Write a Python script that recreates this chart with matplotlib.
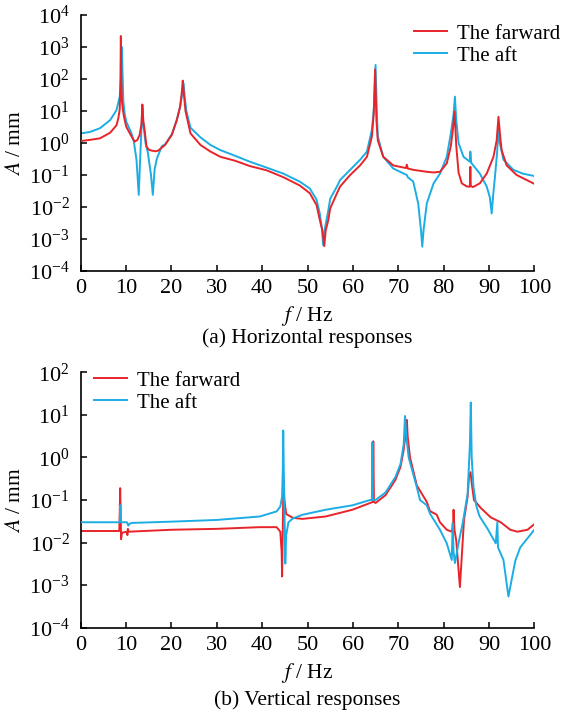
import numpy as np
import matplotlib
matplotlib.use("Agg")
import matplotlib.pyplot as plt
from matplotlib.ticker import LogLocator, NullLocator, MultipleLocator

plt.rcParams['font.family'] = ['Liberation Serif', 'DejaVu Serif']
plt.rcParams['mathtext.fontset'] = 'stix'

# (a) horizontal responses, farward
f_h_fwd = [0, 2, 4.25, 6.5, 7.9, 8.3, 8.6, 8.75, 8.85, 8.95, 9.1, 9.3, 9.6, 10.05, 11.2, 11.9,
           12.5, 13.0, 13.4, 13.6, 13.8, 14.1, 14.5, 15.0, 15.6, 16.5, 17.1, 18.6, 20.1, 21.2,
           21.9, 22.3, 22.5, 22.7, 23.1, 24.2, 26.4, 28.6, 30.8, 34, 37.3, 41, 44.7, 48.3,
           50.5, 52.0, 52.7, 53.3, 53.7, 54.0, 54.6, 55.0, 56.5, 57.2, 59.4, 61.6, 63.1, 64.2,
           64.6, 64.9, 65.2, 65.5, 66.7, 68.9, 70.4, 71.7, 71.9, 72.1, 73.3, 76.3, 77.8, 79.2,
           80.7, 81.6, 82.1, 82.4, 82.6, 82.8, 83.3, 84.0, 85.1, 85.8, 85.9, 86.0, 86.5, 88.0,
           89.5, 91.0, 91.7, 92.1, 92.5, 92.8, 93.9, 96.1, 100]
a_h_fwd = [1.15, 1.25, 1.4, 2.1, 3.6, 6, 11, 60, 2200, 80, 20, 11, 6, 3.2, 1.6, 1.1,
           1.25, 1.8, 4, 16, 5, 2.5, 0.78, 0.62, 0.58, 0.55, 0.58, 0.87, 1.8, 5.2,
           13.5, 40, 89, 40, 10, 2.0, 0.87, 0.54, 0.37, 0.28, 0.19, 0.14, 0.085, 0.047,
           0.027, 0.0115, 0.004, 0.0018, 0.0006, 0.0018, 0.004, 0.009, 0.027, 0.044, 0.1, 0.2, 0.37, 1.6,
           8, 200, 5, 1.2, 0.37, 0.2, 0.18, 0.165, 0.21, 0.16, 0.145, 0.126, 0.12, 0.126,
           0.23, 0.8, 3, 9.6, 3, 0.8, 0.12, 0.055, 0.044, 0.043, 0.18, 0.045, 0.042, 0.055,
           0.11, 0.37, 1.2, 6.6, 1.5, 0.6, 0.2, 0.1, 0.053]

# (a) horizontal responses, aft
f_h_aft = [0, 2, 4.25, 6.5, 7.9, 8.6, 9.0, 9.1, 9.2, 9.4, 9.7, 10.05, 11.2, 11.7, 12.3, 12.8,
           13.1, 13.4, 13.6, 13.8, 14.3, 14.8, 15.5, 15.9, 16.3, 16.8, 17.9, 18.6, 20.1, 21.2,
           21.9, 22.4, 22.7, 22.9, 23.3, 24.2, 26.4, 28.6, 30.8, 34, 37.3, 41, 44.7, 48.3,
           50.5, 52.0, 52.7, 53.2, 53.45, 53.8, 54.6, 55.0, 56.5, 57.2, 59.4, 61.6, 63.1, 64.2,
           64.7, 65.0, 65.3, 65.5, 66.7, 68.9, 70.4, 71.9, 72.1, 73.3, 74.4, 75.0, 75.3, 75.6,
           76.3, 77.8, 79.2, 80.7, 81.6, 82.2, 82.5, 82.8, 83.3, 84.4, 85.8, 85.9, 86.1, 88.0,
           89.5, 90.2, 90.6, 91.0, 91.3, 91.8, 92.1, 92.4, 93.2, 95.4, 97.5, 100]
a_h_aft = [2.0, 2.2, 2.9, 5.2, 10.7, 28, 200, 1000, 200, 20, 8, 4.6, 2.0, 1.15, 0.3, 0.024,
           0.3, 3, 12, 4, 1.0, 0.5, 0.1, 0.024, 0.15, 0.33, 0.8, 0.9, 1.9, 5.5,
           13, 35, 72, 30, 10, 3.0, 1.5, 0.87, 0.6, 0.4, 0.26, 0.17, 0.11, 0.062,
           0.038, 0.017, 0.0063, 0.002, 0.00065, 0.002, 0.008, 0.018, 0.044, 0.07, 0.145, 0.3, 0.54, 2.6,
           15, 275, 8, 1.6, 0.37, 0.16, 0.126, 0.1, 0.085, 0.063, 0.013, 0.002, 0.00058, 0.002,
           0.013, 0.055, 0.11, 0.37, 2, 8, 28, 5, 1.0, 0.37, 0.26, 0.54, 0.24, 0.11,
           0.044, 0.02, 0.0063, 0.03, 0.08, 0.5, 2.6, 1.0, 0.3, 0.145, 0.11, 0.093]

# (b) vertical responses, farward
f_v_fwd = [0, 8.5, 8.6, 8.7, 8.8, 8.9, 9.1, 10.1, 10.3, 10.4, 10.6, 20, 30, 39.5, 43.2,
           44.0, 44.3, 44.4, 44.55, 44.7, 44.9, 45.3, 46.8, 48.9, 54.0, 59.9, 63.8, 64.4, 64.5,
           64.65, 65.0, 67.2, 69.4, 70.5, 71.2, 71.7, 71.9, 72.1, 72.6, 74.1, 76.3, 77.0, 78.5,
           79.2, 80.7, 81.8, 82.1, 82.2, 82.4, 82.8, 83.6, 84.5, 85.3, 85.6, 85.95, 86.2, 86.7,
           88.2, 90.4, 92.6, 94.7, 96.3, 98.5, 100]
a_v_fwd = [0.0187, 0.0187, 0.05, 0.19, 0.05, 0.012, 0.017, 0.018, 0.015, 0.021, 0.018, 0.020, 0.021, 0.023, 0.023,
           0.018, 0.006, 0.0016, 0.02, 0.3, 0.1, 0.047, 0.038, 0.036, 0.041, 0.059, 0.085, 0.09, 2.4,
           0.09, 0.085, 0.13, 0.3, 0.6, 1.5, 4, 7.6, 3, 1, 0.22, 0.09, 0.055, 0.045,
           0.03, 0.02, 0.018, 0.025, 0.059, 0.02, 0.011, 0.0009, 0.034, 0.12, 0.35, 0.45, 0.25, 0.1,
           0.065, 0.039, 0.03, 0.02, 0.018, 0.02, 0.027]

# (b) vertical responses, aft
f_v_aft = [0, 8.6, 8.75, 8.9, 10.2, 10.5, 10.8, 11.5, 20, 30, 39.5, 43.2, 44.0, 44.4, 44.55,
           44.65, 44.8, 45.0, 45.1, 45.3, 45.8, 46.8, 48.9, 54.0, 59.9, 63.8, 64.2, 64.3, 64.4,
           65.0, 67.2, 69.4, 70.5, 71.2, 71.5, 71.8, 72.3, 74.1, 74.8, 76.3, 77.0, 79.2, 80.7,
           81.8, 82.0, 82.2, 82.5, 83.4, 84.2, 85.3, 85.8, 86.0, 86.2, 86.6, 87.2, 87.9, 89.7,
           91.5, 91.85, 92.0, 93.2, 94.3, 95.8, 96.9, 100]
a_v_aft = [0.030, 0.030, 0.075, 0.03, 0.03, 0.025, 0.028, 0.029, 0.031, 0.034, 0.041, 0.054, 0.07, 0.12, 0.5,
           4.3, 0.3, 0.02, 0.0032, 0.015, 0.03, 0.037, 0.045, 0.059, 0.075, 0.1, 0.1, 2.3, 0.1,
           0.1, 0.15, 0.35, 0.7, 2, 9.4, 3, 1, 0.2, 0.1, 0.075, 0.048, 0.02, 0.0096,
           0.0039, 0.028, 0.006, 0.0033, 0.011, 0.028, 0.14, 2, 19.5, 1, 0.2, 0.074, 0.042, 0.021,
           0.0096, 0.03, 0.0077, 0.0039, 0.00054, 0.0037, 0.0077, 0.02]

red = '#e8242b'
blue = '#1cade4'
W, H = 564, 712

fig = plt.figure(figsize=(W / 100, H / 100), dpi=100)
ax1 = fig.add_axes([80.7 / W, 1 - 271 / H, (534.3 - 80.7) / W, (271 - 15) / H])
ax2 = fig.add_axes([80.7 / W, 1 - 627.7 / H, (534.3 - 80.7) / W, (627.7 - 372.3) / H])

ax1.plot(f_h_fwd, a_h_fwd, color=red, lw=1.4, label='The farward', zorder=3)
ax1.plot(f_h_aft, a_h_aft, color=blue, lw=1.4, label='The aft', zorder=2)
ax2.plot(f_v_fwd, a_v_fwd, color=red, lw=1.4, label='The farward', zorder=2)
ax2.plot(f_v_aft, a_v_aft, color=blue, lw=1.4, label='The aft', zorder=3)

for ax, lo, hi in [(ax1, 1e-4, 1e4), (ax2, 1e-4, 1e2)]:
    ax.set_yscale('log')
    ax.set_ylim(lo, hi)
    ax.set_xlim(0, 100)
    ax.xaxis.set_major_locator(MultipleLocator(10))
    ax.yaxis.set_major_locator(LogLocator(base=10, numticks=20))
    ax.yaxis.set_minor_locator(NullLocator())
    ax.spines['top'].set_visible(False)
    ax.spines['right'].set_visible(False)
    ax.spines['left'].set_linewidth(1.2)
    ax.spines['bottom'].set_linewidth(1.2)
    ax.tick_params(direction='in', length=4, width=1.1, labelsize=16)
    ax.tick_params(axis='x', pad=6)
    ax.tick_params(axis='y', pad=8)
    ax.set_xlabel('$f$ / Hz', fontsize=15.5, labelpad=4)
    ax.set_ylabel('$A$ / mm', fontsize=15.5, labelpad=3)
    ax.set_facecolor('none')

fig.legend(handles=ax1.get_lines(), loc='upper left', bbox_to_anchor=(414 / W, 1 - 24 / H),
           frameon=False, fontsize=15, handlelength=1.6, handletextpad=0.45,
           labelspacing=0.12, borderpad=0, borderaxespad=0)
fig.legend(handles=ax2.get_lines(), loc='upper left', bbox_to_anchor=(94 / W, 1 - 371 / H),
           frameon=False, fontsize=15, handlelength=1.6, handletextpad=0.45,
           labelspacing=0.12, borderpad=0, borderaxespad=0)

fig.text(307.5 / W, 1 - 338 / H, '(a) Horizontal responses', fontsize=15.5, ha='center', va='center')
fig.text(307.5 / W, 1 - 700 / H, '(b) Vertical responses', fontsize=15.5, ha='center', va='center')

fig.savefig('out.png', dpi=100, facecolor='white')
